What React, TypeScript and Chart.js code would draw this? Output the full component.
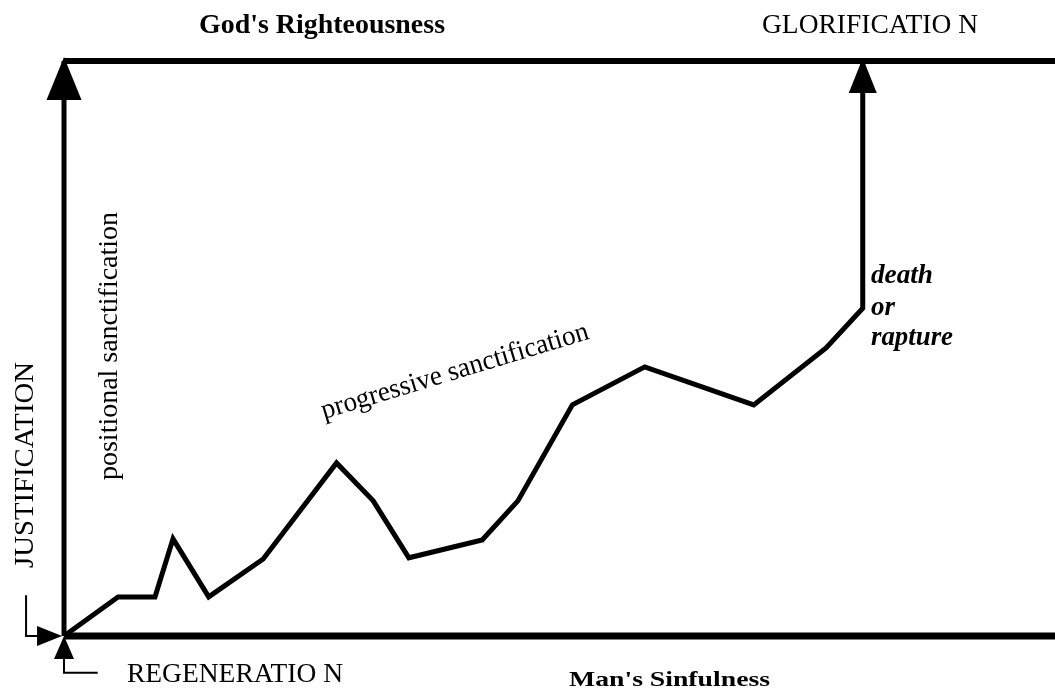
import React, { useEffect, useRef } from "react";
import { Chart, registerables } from "chart.js";

Chart.register(...registerables);

// Scale ranges (data units); the frame spans x 0..100, y 0..100
const X_MIN = -6.46;
const X_MAX = 100;
const Y_MIN = 0;
const Y_MAX = 100;

// Path of the Christian life (x: time, y: righteousness)
const pathX = [0, 5.45, 9.18, 11.0, 14.6, 20.1, 27.5, 31.2, 34.8, 42.2, 45.8, 51.3, 58.6, 69.6, 76.9, 80.6, 80.6];
const pathY = [0, 6.8, 6.8, 16.9, 6.8, 13.4, 30.1, 23.5, 13.6, 16.7, 23.5, 40.2, 46.8, 40.2, 50.1, 57.0, 100];

// Frame lines
const frameBottomX = [0, 100];
const frameBottomY = [0, 0];
const frameTopX = [0, 100];
const frameTopY = [100, 100];
const frameLeftX = [0, 0];
const frameLeftY = [0, 100];

// Small pointer marks at the origin
const justMarkX = [-3.83, -3.83, -2.7];
const justMarkY = [7.1, 0, 0];
const regenMarkX = [0, 0, 3.4];
const regenMarkY = [-4.0, -6.4, -6.4];

// Arrow tips
const arrowX = [0, 80.6, -0.2, 0];
const arrowY = [100, 100, 0, 0];
const arrowDir = ["up", "up", "right", "up"];

// Labels
const labelTexts = [
  "God's Righteousness",
  "GLORIFICATIO N",
  "REGENERATIO N",
  "Man's Sinfulness",
  "JUSTIFICATION",
  "positional sanctification",
  "progressive sanctification",
  "death",
  "or",
  "rapture",
];

// ---- styles (not data) ----
const ARROW_STYLE = [
  { len: 43, half: 17.5, tip: 4 },
  { len: 35, half: 14, tip: 3 },
  { len: 25, half: 10, tip: 0 },
  { len: 23, half: 10, tip: 0 },
];

const SERIF = "'Liberation Serif', 'Times New Roman', serif";
const LABEL_STYLE = [
  { x: 199, y: 33, font: `bold 28px ${SERIF}`, w: 246, rot: 0 },
  { x: 762, y: 33, font: `28px ${SERIF}`, w: 216, rot: 0 },
  { x: 127, y: 682, font: `27px ${SERIF}`, w: 216, rot: 0 },
  { x: 569, y: 686, font: `bold 22px ${SERIF}`, w: 201, rot: 0 },
  { x: 33, y: 568, font: `28px ${SERIF}`, w: 206, rot: -90 },
  { x: 117, y: 480, font: `28px ${SERIF}`, w: 268, rot: -90 },
  { x: 324, y: 419, font: `28px ${SERIF}`, w: 278, rot: -16.8 },
  { x: 871, y: 283, font: `italic bold 27px ${SERIF}`, w: 62, rot: 0 },
  { x: 871, y: 315, font: `italic bold 27px ${SERIF}`, w: 0, rot: 0 },
  { x: 871, y: 345, font: `italic bold 27px ${SERIF}`, w: 82, rot: 0 },
];

const zip = (xs: number[], ys: number[]) => xs.map((x, i) => ({ x, y: ys[i] }));

const annotPlugin = {
  id: "annot",
  afterDatasetsDraw(chart: any) {
    const { ctx } = chart;
    const xs = chart.scales.x;
    const ys = chart.scales.y;
    ctx.save();
    ctx.fillStyle = "#000";
    arrowX.forEach((ax, i) => {
      const px = xs.getPixelForValue(ax);
      const py = ys.getPixelForValue(arrowY[i]);
      const s = ARROW_STYLE[i];
      ctx.beginPath();
      if (arrowDir[i] === "up") {
        const ty = py - s.tip;
        ctx.moveTo(px, ty);
        ctx.lineTo(px - s.half, ty + s.len);
        ctx.lineTo(px + s.half, ty + s.len);
      } else {
        const tx = px + s.tip;
        ctx.moveTo(tx, py);
        ctx.lineTo(tx - s.len, py - s.half);
        ctx.lineTo(tx - s.len, py + s.half);
      }
      ctx.closePath();
      ctx.fill();
    });

    ctx.textBaseline = "alphabetic";
    ctx.textAlign = "left";
    labelTexts.forEach((t, i) => {
      const st = LABEL_STYLE[i];
      ctx.save();
      ctx.font = st.font;
      ctx.translate(st.x, st.y);
      ctx.rotate((st.rot * Math.PI) / 180);
      if (st.w) {
        const m = ctx.measureText(t).width;
        ctx.scale(st.w / m, 1);
      }
      ctx.fillText(t, 0, 0);
      ctx.restore();
    });
    ctx.restore();
  },
};

export default function App() {
  const ref = useRef<HTMLCanvasElement | null>(null);
  useEffect(() => {
    if (!ref.current) return;
    const lineDs = (data: any[], width: number) => ({
      data,
      borderColor: "#000",
      borderWidth: width,
      pointRadius: 0,
      tension: 0,
      fill: false,
      clip: false as any,
      borderJoinStyle: "miter" as const,
      borderCapStyle: "butt" as const,
    });
    const chart = new Chart(ref.current, {
      type: "line",
      data: {
        datasets: [
          lineDs(zip(frameBottomX, frameBottomY), 7),
          lineDs(zip(frameTopX, frameTopY), 6),
          lineDs(zip(frameLeftX, frameLeftY), 5),
          lineDs(zip(justMarkX, justMarkY), 2),
          lineDs(zip(regenMarkX, regenMarkY), 2),
          lineDs(zip(pathX, pathY), 5),
        ],
      },
      options: {
        animation: false,
        responsive: false,
        devicePixelRatio: 1,
        layout: { padding: { left: 0, right: 0, top: 61, bottom: 53 } },
        scales: {
          x: { type: "linear", min: X_MIN, max: X_MAX, display: false },
          y: { type: "linear", min: Y_MIN, max: Y_MAX, display: false },
        },
        plugins: {
          legend: { display: false },
          tooltip: { enabled: false },
          title: { display: false },
        },
        events: [],
      },
      plugins: [annotPlugin],
    });
    return () => chart.destroy();
  }, []);
  return (
    <div style={{ position: "absolute", left: 0, top: 0, width: 1055, height: 689, background: "#fff" }}>
      <canvas ref={ref} width={1055} height={689} />
    </div>
  );
}
